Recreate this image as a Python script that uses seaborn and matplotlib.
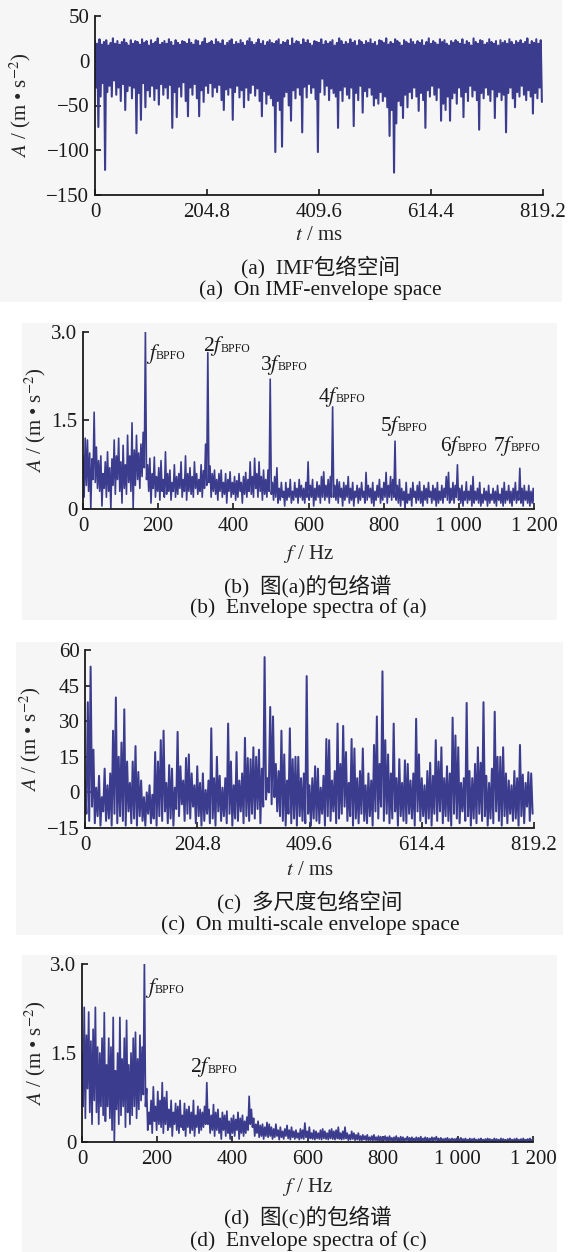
import numpy as np
import pandas as pd
import matplotlib
matplotlib.use("Agg")
import matplotlib.pyplot as plt
import seaborn as sns
from matplotlib.patches import Rectangle

# ---------------- data ----------------
# (a) IMF envelope space: per 4.096 ms cycle, upper and lower extremes (m/s^2)
a_upper = [
    22, 19, 24, 18, 21, 23, 17, 20, 25, 19, 22, 18, 21, 24, 20, 17, 23, 19, 22, 21,
    18, 24, 20, 22, 17, 23, 19, 21, 25, 18, 20, 22, 19, 24, 21, 17, 23, 20, 18, 22,
    21, 19, 24, 20, 18, 23, 22, 17, 21, 25, 19, 20, 22, 18, 24, 21, 19, 23, 17, 20,
    22, 24, 18, 21, 19, 23, 20, 17, 22, 25, 21, 18, 20, 24, 19, 22, 17, 21, 23, 20,
    19, 22, 24, 18, 21, 20, 23, 17, 25, 19, 22, 21, 18, 24, 20, 23, 19, 17, 22, 21,
    20, 24, 18, 22, 19, 21, 23, 17, 20, 25, 22, 18, 21, 19, 24, 20, 22, 17, 23, 21,
    18, 22, 20, 24, 19, 21, 17, 23, 22, 20, 25, 18, 21, 19, 24, 22, 20, 17, 23, 21,
    19, 24, 21, 18, 22, 20, 23, 17, 21, 25, 19, 22, 20, 18, 24, 21, 23, 19, 17, 22,
    20, 23, 21, 19, 24, 18, 22, 20, 17, 25, 21, 19, 23, 22, 18, 20, 24, 21, 19, 22,
    17, 23, 20, 22, 19, 24, 21, 18, 22, 20, 23, 19, 21, 25, 18, 22, 20, 24, 19, 23,
]
a_lower = [
    -30, -74, -40, -25, -122, -35, -28, -40, -22, -38, -30, -45, -26, -55, -34, -28, -42, -30, -81, -36,
    -66, -25, -52, -33, -40, -28, -44, -31, -49, -26, -38, -30, -42, -27, -75, -35, -63, -29, -40, -24,
    -45, -62, -30, -38, -26, -42, -62, -33, -46, -28, -36, -25, -40, -30, -35, -27, -44, -55, -32, -38,
    -30, -66, -35, -28, -41, -33, -52, -30, -44, -36, -27, -39, -31, -45, -62, -34, -48, -38, -42, -50,
    -102, -45, -55, -96, -40, -35, -50, -67, -33, -42, -30, -38, -80, -29, -41, -26, -36, -30, -43, -102,
    -35, -20, -38, -28, -44, -31, -36, -40, -75, -33, -45, -29, -38, -42, -30, -73, -36, -44, -28, -58,
    -34, -40, -30, -38, -50, -42, -48, -35, -45, -40, -52, -84, -55, -125, -70, -45, -50, -64, -38, -52,
    -35, -42, -30, -40, -56, -36, -44, -75, -33, -40, -28, -38, -44, -30, -67, -48, -55, -40, -67, -42,
    -36, -48, -30, -40, -63, -35, -45, -28, -40, -33, -44, -77, -36, -42, -30, -38, -45, -32, -64, -40,
    -35, -44, -38, -80, -36, -30, -42, -52, -35, -40, -28, -38, -44, -33, -40, -59, -36, -42, -30, -46,
]

# (b) envelope spectrum of (a): per frequency bin, local max and local min
b_upper = [
    0.9, 1.2, 1.17, 0.95, 0.85, 1.64, 1.05, 0.82, 0.9, 0.6, 0.8, 0.97, 0.7, 0.85, 1.17, 0.9, 1.2, 0.8, 1.08, 0.75, 1.25, 0.9, 1.46, 1.0, 1.25, 0.95, 1.1, 1.3,
    3.0, 0.75, 0.86, 0.6, 0.88, 0.55, 0.7, 0.82, 0.5, 0.97, 0.6, 0.66, 0.45, 0.75, 0.55, 0.6, 0.8, 0.5, 0.9, 0.6, 0.7, 0.55, 0.8, 0.6, 0.5, 0.75, 0.65, 1.1,
    2.65, 0.73, 0.6, 0.66, 0.5, 0.6, 0.66, 0.45, 0.6, 0.5, 0.63, 0.45, 0.55, 0.48, 0.6, 0.45, 0.55, 0.62, 0.5, 0.8, 0.55, 0.86, 0.6, 0.8, 0.55, 0.66, 0.5, 0.66,
    2.2, 0.45, 0.55, 0.7, 0.35, 0.45, 0.3, 0.45, 0.35, 0.5, 0.3, 0.45, 0.35, 0.5, 0.4, 0.35, 0.45, 0.8, 0.4, 0.5, 0.35, 0.46, 0.4, 0.55, 0.63, 0.4, 0.5, 0.55,
    1.73, 0.4, 0.5, 0.46, 0.35, 0.45, 0.4, 0.55, 0.35, 0.45, 0.3, 0.4, 0.35, 0.45, 0.3, 0.62, 0.4, 0.35, 0.45, 0.3, 0.4, 0.5, 0.35, 0.45, 0.62, 0.4, 0.55, 0.5,
    1.15, 0.4, 0.5, 0.35, 0.3, 0.45, 0.25, 0.35, 0.45, 0.3, 0.4, 0.46, 0.3, 0.4, 0.35, 0.45, 0.3, 0.4, 0.35, 0.45, 0.3, 0.4, 0.35, 0.55, 0.62, 0.35, 0.45, 0.4,
    0.75, 0.35, 0.4, 0.3, 0.46, 0.3, 0.4, 0.55, 0.3, 0.35, 0.45, 0.25, 0.35, 0.3, 0.4, 0.25, 0.35, 0.3, 0.4, 0.25, 0.35, 0.45, 0.3, 0.4, 0.3, 0.35, 0.45, 0.3, 0.69, 0.35, 0.4, 0.3, 0.4, 0.3, 0.35,
]
b_lower = [
    0.2, 0.4, 0.3, 0.0, 0.5, 0.45, 0.35, 0.3, 0.05, 0.35, 0.2, 0.3, 0.0, 0.4, 0.25, 0.5, 0.3, 0.1, 0.35, 0.25, 0.45, 0.3, 0.0, 0.4, 0.5, 0.35, 0.55, 0.7,
    0.5, 0.3, 0.1, 0.35, 0.2, 0.3, 0.15, 0.3, 0.2, 0.25, 0.3, 0.15, 0.3, 0.2, 0.25, 0.35, 0.2, 0.3, 0.15, 0.3, 0.25, 0.2, 0.35, 0.25, 0.3, 0.2, 0.35, 0.4,
    0.45, 0.2, 0.3, 0.25, 0.15, 0.3, 0.2, 0.25, 0.1, 0.3, 0.2, 0.25, 0.15, 0.2, 0.3, 0.1, 0.25, 0.2, 0.3, 0.25, 0.2, 0.35, 0.2, 0.3, 0.15, 0.25, 0.2, 0.3,
    0.25, 0.15, 0.2, 0.1, 0.15, 0.2, 0.05, 0.15, 0.2, 0.1, 0.15, 0.2, 0.1, 0.2, 0.15, 0.1, 0.2, 0.15, 0.2, 0.05, 0.15, 0.2, 0.1, 0.2, 0.15, 0.2, 0.1, 0.2,
    0.2, 0.15, 0.1, 0.2, 0.05, 0.15, 0.2, 0.1, 0.15, 0.05, 0.2, 0.1, 0.15, 0.2, 0.1, 0.15, 0.2, 0.1, 0.05, 0.15, 0.2, 0.1, 0.15, 0.2, 0.1, 0.2, 0.15, 0.2,
    0.15, 0.1, 0.05, 0.15, 0.0, 0.1, 0.15, 0.05, 0.2, 0.1, 0.15, 0.1, 0.05, 0.15, 0.1, 0.2, 0.1, 0.15, 0.05, 0.1, 0.15, 0.1, 0.2, 0.15, 0.1, 0.15, 0.1, 0.2,
    0.15, 0.1, 0.05, 0.15, 0.1, 0.15, 0.05, 0.1, 0.15, 0.1, 0.05, 0.1, 0.15, 0.05, 0.1, 0.15, 0.1, 0.05, 0.15, 0.1, 0.05, 0.1, 0.15, 0.1, 0.05, 0.15, 0.1, 0.15, 0.1, 0.05, 0.15, 0.1, 0.05, 0.1, 0.05,
]

# (c) multi-scale envelope space: per 5.12 ms cycle, upper and lower extremes
c_upper = [
    5, 38, 53, 18, 2, 7, -2, 10, 3, 8, 26, 40, 15, 21, 35, 13, 4, 13, 19.5, 8.6,
    5, -2, 0, 3, -1, 17, 13, 22, 26, 4, 11.5, 10, 2, 25.5, 11, 5, 14.5, 16, 8, 3,
    11, 4, 8, 1, 5, 27, 6, 15, 7, 2, 6, 29, 13, 3, 17, 5, 8, 23, 14.5, 14,
    19, 15, 18, 10, 57, 6, 36, 32, 12, 9, 26, 16, 5, 27, 14, 15, 15, 6, 8, 49,
    3, 6, 11, 10, 2, 7, 22.5, 22, 5, 9, 29, 12, 28, 17, 4, 22.5, 18.5, 6, 9, 18.5,
    3, 8, 5, 20, 32, 12, 51, 22, 16, 8, 29, 6, 14, 4, 13.5, 12, 5, 8, 31, 16,
    6, 3, 9, 12.5, 7, 22, 13, 19, 6, 11, 8, 31.5, 24, 19, 4, 6, 37.7, 9, 6, 12,
    19, 12.5, 38, 7, 4, 10, 34, 15, 15, 19, 8, 5, 3, 9, 6, 20, 7.5, 4, 8.5, 8,
]
c_lower = [
    -9, -12, -6, -13, -10, -14, -8, -12, -11, -14, -9, -13, -10, -12, -14, -8, -13, -11, -14, -10,
    -12, -14, -9, -13, -11, -14, -10, -12, -8, -13, -11, -14, -7, -10, -5, -12, -9, -11, -6, -13,
    -10, -14, -12, -9, -13, -11, -14, -8, -12, -10, -13, -9, -14, -11, -12, -8, -13, -10, -12, -9,
    -11, -7, -13, -6, -3, 0, -5, -2, -8, -10, -12, -14, -9, -13, -11, -14, -10, -12, -13, -9,
    -14, -11, -12, -13, -9, -14, -10, -12, -8, -13, -11, -9, -6, -12, -10, -14, -11, -13, -9, -12,
    -13, -10, -14, -8, -11, -6, -12, -9, -13, -11, -8, -14, -10, -12, -13, -9, -11, -14, -8, -12,
    -10, -13, -11, -14, -9, -12, -8, -13, -10, -12, -14, -9, -11, -13, -8, -12, -10, -14, -11, -13,
    -9, -12, -10, -14, -11, -13, -8, -12, -14, -10, -13, -9, -12, -11, -14, -10, -13, -6, -12, -9,
]

# (d) envelope spectrum of (c)
d_upper = [
    1.5, 2.27, 1.8, 2.19, 1.7, 1.9, 2.27, 1.6, 1.5, 1.75, 2.18, 1.3, 1.75, 1.6, 2.1, 1.2, 1.5, 2.1, 1.4, 1.75, 2.05, 1.3, 1.5, 1.75, 1.85, 1.4, 1.8, 1.6,
    3.0, 0.9, 0.5, 0.7, 0.93, 0.6, 0.85, 0.7, 1.0, 0.75, 0.85, 0.55, 0.7, 0.5, 0.65, 0.6, 0.7, 0.45, 0.65, 0.55, 0.6, 0.5, 0.7, 0.45, 0.6, 0.55, 0.5, 0.6,
    1.0, 0.55, 0.45, 0.63, 0.5, 0.55, 0.4, 0.5, 0.45, 0.52, 0.35, 0.4, 0.45, 0.38, 0.5, 0.4, 0.45, 0.35, 0.42, 0.77, 0.55, 0.4, 0.3, 0.35, 0.28, 0.3, 0.25, 0.33,
    0.3, 0.25, 0.22, 0.3, 0.2, 0.25, 0.18, 0.22, 0.28, 0.2, 0.25, 0.18, 0.2, 0.15, 0.22, 0.2, 0.32, 0.18, 0.25, 0.15, 0.2, 0.18, 0.15, 0.2, 0.22, 0.18, 0.15, 0.2,
    0.22, 0.18, 0.2, 0.25, 0.15, 0.18, 0.25, 0.15, 0.12, 0.18, 0.15, 0.12, 0.15, 0.1, 0.12, 0.1, 0.12, 0.08, 0.1, 0.12, 0.08, 0.1, 0.09, 0.08, 0.1, 0.08, 0.1, 0.07,
    0.08, 0.1, 0.07, 0.09, 0.08, 0.06, 0.09, 0.07, 0.08, 0.06, 0.08, 0.07, 0.09, 0.06, 0.08, 0.07, 0.06, 0.08, 0.07, 0.09, 0.06, 0.07, 0.05, 0.06, 0.07, 0.05, 0.06, 0.05,
    0.06, 0.05, 0.07, 0.05, 0.06, 0.04, 0.06, 0.05, 0.06, 0.04, 0.05, 0.06, 0.04, 0.05, 0.06, 0.05, 0.04, 0.06, 0.05, 0.04, 0.06, 0.05, 0.04, 0.05, 0.06, 0.04, 0.05, 0.06, 0.04, 0.05, 0.06, 0.04, 0.05, 0.06, 0.04,
]
d_lower = [
    0.6, 0.4, 0.9, 0.5, 0.3, 0.7, 0.5, 0.3, 0.6, 0.45, 0.35, 0.6, 0.4, 0.2, 0.0, 0.55, 0.3, 0.45, 0.6, 0.25, 0.5, 0.3, 0.45, 0.6, 0.4, 0.55, 0.7, 0.8,
    0.6, 0.2, 0.3, 0.15, 0.35, 0.2, 0.3, 0.25, 0.15, 0.3, 0.2, 0.25, 0.1, 0.3, 0.2, 0.15, 0.25, 0.2, 0.1, 0.25, 0.15, 0.2, 0.1, 0.25, 0.15, 0.2, 0.25, 0.3,
    0.3, 0.15, 0.2, 0.1, 0.2, 0.15, 0.05, 0.2, 0.1, 0.15, 0.05, 0.15, 0.1, 0.2, 0.05, 0.15, 0.1, 0.15, 0.2, 0.3, 0.25, 0.1, 0.15, 0.08, 0.1, 0.05, 0.1, 0.08,
    0.1, 0.05, 0.08, 0.1, 0.04, 0.08, 0.05, 0.1, 0.06, 0.04, 0.08, 0.05, 0.07, 0.04, 0.06, 0.05, 0.08, 0.04, 0.06, 0.05, 0.04, 0.06, 0.05, 0.04, 0.06, 0.05, 0.04, 0.06,
    0.05, 0.04, 0.06, 0.05, 0.04, 0.05, 0.06, 0.03, 0.04, 0.05, 0.03, 0.04, 0.03, 0.02, 0.04, 0.03, 0.02, 0.03, 0.02, 0.03, 0.02, 0.01, 0.02, 0.03, 0.02, 0.01, 0.02, 0.01,
    0.02, 0.01, 0.0, 0.02, 0.01, 0.03, 0.01, 0.0, 0.02, 0.01, 0.02, 0.0, 0.01, 0.02, 0.01, 0.0, 0.02, 0.01, 0.03, 0.01, 0.0, 0.02, 0.01, 0.02, 0.0, 0.01, 0.02, 0.01,
    0.0, 0.02, 0.01, 0.0, 0.02, 0.01, 0.0, 0.01, 0.02, 0.0, 0.01, 0.02, 0.01, 0.0, 0.02, 0.01, 0.0, 0.01, 0.02, 0.0, 0.01, 0.02, 0.0, 0.01, 0.02, 0.01, 0.0, 0.02, 0.01, 0.0, 0.01, 0.02, 0.0, 0.01, 0.0,
]

T_END = 819.2            # ms
F_END = 1200             # Hz
DF = 5.93                # Hz per spectrum bin
t_ticks = [0, 204.8, 409.6, 614.4, 819.2]
t_ticklabels = ["0", "204.8", "409.6", "614.4", "819.2"]
f_ticks = [0, 200, 400, 600, 800, 1000, 1200]
f_ticklabels = ["0", "200", "400", "600", "800", "1 000", "1 200"]
a_yticks = [50, 0, -50, -100, -150]
a_yticklabels = ["50", "0", "\u221250", "\u2212100", "\u2212150"]
c_yticks = [-15, 0, 15, 30, 45, 60]
c_yticklabels = ["\u221215", "0", "15", "30", "45", "60"]
s_yticks = [0, 1.5, 3.0]
s_yticklabels = ["0", "1.5", "3.0"]

# harmonic labels: multiple of f, subscript text, position (Hz, A)
b_harm_prefix = ["", "2", "3", "4", "5", "6", "7"]
b_label_pos = [(168, 2.63), (319, 2.76), (471, 2.44), (625, 1.90), (790, 1.41), (950, 1.07), (1091, 1.07)]
d_harm_prefix = ["", "2"]
d_label_pos = [(168, 2.6), (287, 1.26)]
HARM_SUB = "BPFO"

captions = [
    ("(a)  IMF包络空间", "(a)  On IMF-envelope space"),
    ("(b)  图(a)的包络谱", "(b)  Envelope spectra of (a)"),
    ("(c)  多尺度包络空间", "(c)  On multi-scale envelope space"),
    ("(d)  图(c)的包络谱", "(d)  Envelope spectra of (c)"),
]

# ---------------- styling ----------------
sns.set_theme(style="ticks")
plt.rcParams["font.family"] = ["Liberation Serif", "Noto Sans CJK SC", "DejaVu Sans"]
plt.rcParams["mathtext.fontset"] = "stix"
plt.rcParams["axes.unicode_minus"] = True

LINE = "#3c3c8e"
TXT = "#1a1a1a"
FS = 15
W, H = 570, 1252

fig = plt.figure(figsize=(W / 100, H / 100), dpi=100, facecolor="white")

# light grey panel backgrounds (drawn beneath the axes)
for (x0, y0, x1, y1) in [(0, 0, 562, 302), (22, 323, 557, 620), (16, 642, 563, 935), (22, 955, 557, 1252)]:
    fig.patches.append(Rectangle((x0 / W, 1 - y1 / H), (x1 - x0) / W, (y1 - y0) / H,
                                 transform=fig.transFigure, facecolor="#f6f6f6",
                                 edgecolor="none", zorder=-10))


def add_axes_px(x0, x1, y0, y1):
    ax = fig.add_axes([x0 / W, 1 - y1 / H, (x1 - x0) / W, (y1 - y0) / H])
    ax.set_facecolor("none")
    ax.set_zorder(5)
    return ax


def interleave(upper, lower, step):
    n = len(upper)
    x = np.empty(2 * n)
    y = np.empty(2 * n)
    idx = np.arange(n)
    x[0::2] = idx * step
    x[1::2] = idx * step + step / 2
    y[0::2] = upper
    y[1::2] = lower
    return pd.DataFrame({"x": x, "y": y})


def style(ax, xlabel, xlab_y, ylab_x):
    sns.despine(ax=ax)
    for s in ("left", "bottom"):
        ax.spines[s].set_linewidth(1.3)
        ax.spines[s].set_color(TXT)
    ax.tick_params(direction="in", length=4, width=1.2, labelsize=FS, colors=TXT, pad=4)
    ax.tick_params(axis="x", pad=6)
    ax.set_ylabel("$A$ / (m \u2022 s$^{-2}$)", fontsize=FS)
    ax.yaxis.set_label_coords(ylab_x, 0.5)
    ax.yaxis.label.set_va("center")
    ax.set_xlabel(xlabel, fontsize=FS)
    ax.xaxis.set_label_coords(0.5, xlab_y)
    ax.xaxis.label.set_va("center")


def harmonic_label(ax, x, y, prefix):
    main = ax.text(x, y, prefix + "$f$", ha="left", va="center", fontsize=15.5, color=TXT)
    ax.annotate(HARM_SUB, xy=(1, 0), xycoords=main, xytext=(-3.2, 2.6), textcoords="offset points",
                ha="left", va="bottom", fontsize=8.5, color=TXT)


# (a)
ax = add_axes_px(95, 543, 16, 195)
sns.lineplot(data=interleave(a_upper, a_lower, T_END / len(a_upper)), x="x", y="y", ax=ax,
             color=LINE, lw=1.5, estimator=None, sort=False)
ax.set_xlim(0, T_END)
ax.set_ylim(-150, 50)
ax.set_xticks(t_ticks, t_ticklabels)
ax.set_yticks(a_yticks, a_yticklabels)
style(ax, "$t$ / ms", -0.229, -0.167)

# (b)
ax = add_axes_px(83, 534, 332, 509)
sns.lineplot(data=interleave(b_upper, b_lower, DF), x="x", y="y", ax=ax,
             color=LINE, lw=1.2, estimator=None, sort=False)
ax.set_xlim(0, F_END)
ax.set_ylim(0, 3.0)
ax.set_xticks(f_ticks, f_ticklabels)
ax.set_yticks(s_yticks, s_yticklabels)
style(ax, "$f$ / Hz", -0.254, -0.106)
for pre, (fx, fy) in zip(b_harm_prefix, b_label_pos):
    harmonic_label(ax, fx, fy, pre)

# (c)
ax = add_axes_px(85, 534, 650, 828)
sns.lineplot(data=interleave(c_upper, c_lower, T_END / len(c_upper)), x="x", y="y", ax=ax,
             color=LINE, lw=1.45, estimator=None, sort=False)
ax.set_xlim(0, T_END)
ax.set_ylim(-15, 60)
ax.set_xticks(t_ticks, t_ticklabels)
ax.set_yticks(c_yticks, c_yticklabels)
style(ax, "$t$ / ms", -0.236, -0.122)

# (d)
ax = add_axes_px(82, 533, 964, 1142)
sns.lineplot(data=interleave(d_upper, d_lower, DF), x="x", y="y", ax=ax,
             color=LINE, lw=1.25, estimator=None, sort=False)
ax.set_xlim(0, F_END)
ax.set_ylim(0, 3.0)
ax.set_xticks(f_ticks, f_ticklabels)
ax.set_yticks(s_yticks, s_yticklabels)
style(ax, "$f$ / Hz", -0.253, -0.104)
for pre, (fx, fy) in zip(d_harm_prefix, d_label_pos):
    harmonic_label(ax, fx, fy, pre)

# captions
cap_pos = [(320, 267, 290), (308, 586, 608), (310, 902, 925), (308, 1217, 1241)]
for (zh, en), (cx, y1, y2) in zip(captions, cap_pos):
    fig.text(cx / W, 1 - y1 / H, zh, ha="center", va="center", fontsize=15.5, color=TXT, zorder=6)
    fig.text(cx / W, 1 - y2 / H, en, ha="center", va="center", fontsize=15.5, color=TXT, zorder=6)

fig.savefig("out.png", dpi=100, facecolor=fig.get_facecolor())
